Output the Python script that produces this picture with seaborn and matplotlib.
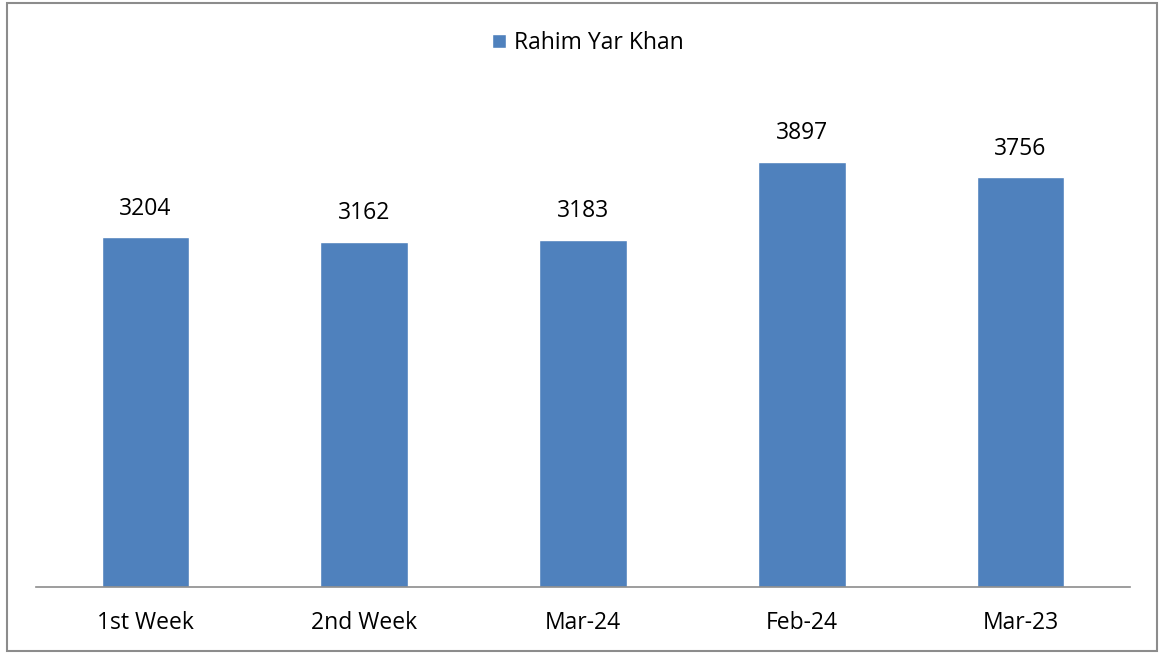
import matplotlib
matplotlib.use("Agg")
import matplotlib.pyplot as plt
import seaborn as sns
import pandas as pd
from matplotlib.patches import Rectangle

categories = ["1st Week", "2nd Week", "Mar-24", "Feb-24", "Mar-23"]
values = [3204, 3162, 3183, 3897, 3756]
series_name = "Rahim Yar Khan"

df = pd.DataFrame({"period": categories, "value": values})

sns.set_theme(style="white")
plt.rcParams["font.family"] = ["Open Sans", "DejaVu Sans"]
plt.rcParams["text.color"] = "black"

fig = plt.figure(figsize=(11.6, 6.54), dpi=100)
ax = fig.add_axes([36 / 1160, 67 / 654, 1094 / 1160, 491 / 654])

sns.barplot(data=df, x="period", y="value", color="#4F81BD", width=0.4,
            saturation=1, ax=ax, label=series_name)

for i, v in enumerate(values):
    ax.annotate(str(v), (i, v), xytext=(0, 12), textcoords="offset points",
                ha="center", va="bottom", fontsize=16.5, color="black")

ax.set_ylim(0, 4500)
ax.set_xlim(-0.5, len(categories) - 0.5)
ax.set_xlabel("")
ax.set_ylabel("")
ax.set_yticks([])
ax.tick_params(axis="x", length=0, labelsize=16.5, pad=17, colors="black")
for side in ["top", "right", "left"]:
    ax.spines[side].set_visible(False)
ax.spines["bottom"].set_color("#8c8c8c")
ax.spines["bottom"].set_linewidth(1.2)

leg = ax.legend(loc="center", bbox_to_anchor=(588 / 1160, 1 - 43 / 654),
                bbox_transform=fig.transFigure, frameon=False, fontsize=16.5,
                handlelength=0.6, handleheight=0.6, handletextpad=0.35)
for t in leg.get_texts():
    t.set_color("black")

fig.patches.append(Rectangle((7 / 1160, 3 / 654), 1150 / 1160, 648 / 654,
                             transform=fig.transFigure, fill=False,
                             edgecolor="#8c8c8c", linewidth=1.5))

fig.savefig("out.png", dpi=100)
